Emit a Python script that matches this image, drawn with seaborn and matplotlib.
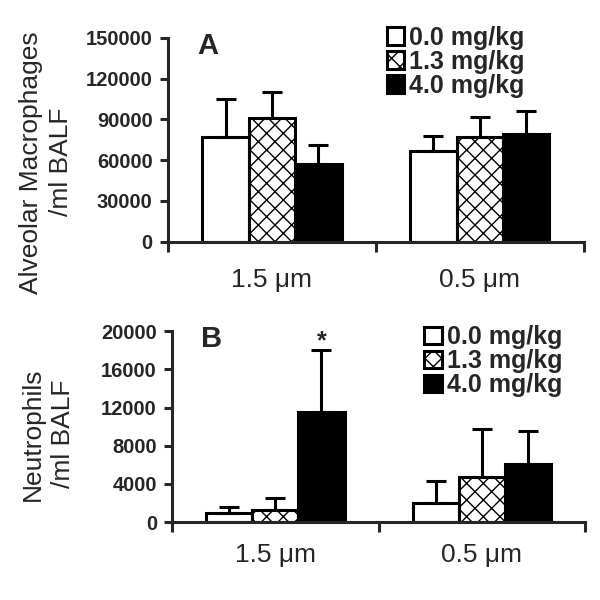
import seaborn as sns
import pandas as pd
import matplotlib.pyplot as plt
from matplotlib.patches import Patch

# 입자 크기 / 투여량
sizes = ['1.5 \u03bcm', '0.5 \u03bcm']
doses = ['0.0 mg/kg', '1.3 mg/kg', '4.0 mg/kg']

# A) Alveolar macrophages (mean, SD)
am_mean = {'0.0 mg/kg': [77000, 67000], '1.3 mg/kg': [91000, 77000], '4.0 mg/kg': [57000, 79000]}
am_err = {'0.0 mg/kg': [28000, 11000], '1.3 mg/kg': [19000, 15000], '4.0 mg/kg': [14000, 17000]}
am_ticks = [0, 30000, 60000, 90000, 120000, 150000]

# B) Neutrophils (mean, SD)
neu_mean = {'0.0 mg/kg': [900, 2000], '1.3 mg/kg': [1300, 4700], '4.0 mg/kg': [11500, 6100]}
neu_err = {'0.0 mg/kg': [700, 2300], '1.3 mg/kg': [1200, 5000], '4.0 mg/kg': [6500, 3400]}
neu_ticks = [0, 4000, 8000, 12000, 16000, 20000]

sns.set_style('ticks')
plt.rcParams['font.family'] = ['Liberation Sans', 'DejaVu Sans']
plt.rcParams['hatch.linewidth'] = 1.0
narrow = ['Liberation Sans Narrow', 'Liberation Sans', 'DejaVu Sans']

fig = plt.figure(figsize=(6, 6), dpi=100)
ax1 = fig.add_axes([0.28, 0.597, 0.693, 0.34])
ax2 = fig.add_axes([0.287, 0.13, 0.688, 0.318])


def to_long(means):
    rows = []
    for d in doses:
        for s, v in zip(sizes, means[d]):
            rows.append({'size': s, 'dose': d, 'value': v})
    return pd.DataFrame(rows)


def draw(ax, means, errs, ticks, ylabel, letter, label_xy, legend_xy, xpad):
    df = to_long(means)
    sns.barplot(data=df, x='size', y='value', hue='dose', order=sizes, hue_order=doses,
                palette=['white', 'white', 'black'], edgecolor='black', linewidth=2.2,
                width=0.67, saturation=1, errorbar=None, legend=False, ax=ax)
    for i, (cont, d) in enumerate(zip(ax.containers, doses)):
        xs = [b.get_x() + b.get_width() / 2 for b in cont]
        ys = [b.get_height() for b in cont]
        if i == 1:
            for b in cont:
                b.set_hatch('xx')
        ax.errorbar(xs, ys, yerr=[[0] * len(ys), errs[d]], fmt='none', ecolor='black',
                    elinewidth=2.2, capsize=7, capthick=2.2, zorder=1)
    ax.set_xlim(-0.5, 1.5)
    ax.set_ylim(0, ticks[-1])
    ax.set_yticks(ticks)
    ax.set_yticklabels([str(t) for t in ticks], fontsize=14.5, fontweight='bold', family=narrow)
    ax.set_xticks([-0.5, 0.5, 1.5])
    ax.set_xticklabels([])
    ax.set_xticks([0, 1], minor=True)
    ax.set_xticklabels(sizes, minor=True, fontsize=19)
    ax.tick_params(axis='x', which='minor', length=0, pad=xpad)
    ax.tick_params(axis='x', which='major', length=7, width=2.2)
    ax.tick_params(axis='y', length=6, width=2.2, pad=5)
    for sp in ['left', 'bottom']:
        ax.spines[sp].set_linewidth(2.2)
    sns.despine(ax=ax)
    ax.set_xlabel('')
    ax.set_ylabel(ylabel, fontsize=19, linespacing=1.35)
    ax.yaxis.set_label_coords(*label_xy)
    ax.text(0.07, 1.03, letter, transform=ax.transAxes, fontsize=21, fontweight='bold', va='top')
    handles = [Patch(facecolor='white', edgecolor='black', linewidth=2.2),
               Patch(facecolor='white', edgecolor='black', linewidth=2.2, hatch='xx'),
               Patch(facecolor='black', edgecolor='black', linewidth=2.2)]
    ax.legend(handles, doses, loc='upper left', bbox_to_anchor=legend_xy, frameon=False,
              prop={'weight': 'bold', 'size': 18, 'family': narrow},
              handlelength=0.7, handleheight=0.7, handletextpad=0.2,
              labelspacing=0.0, borderpad=0, borderaxespad=0)


draw(ax1, am_mean, am_err, am_ticks, 'Alveolar Macrophages\n/ml BALF', 'A',
     (-0.228, 0.39), (0.526, 1.06), 19)
draw(ax2, neu_mean, neu_err, neu_ticks, 'Neutrophils\n/ml BALF', 'B',
     (-0.235, 0.46), (0.61, 1.03), 15)

# 유의성 표시
bar = ax2.containers[2][0]
ax2.text(bar.get_x() + bar.get_width() / 2, neu_mean['4.0 mg/kg'][0] + neu_err['4.0 mg/kg'][0] - 300, '*',
         ha='center', va='bottom', fontsize=18, fontweight='bold')

fig.savefig('out.png', dpi=100)
